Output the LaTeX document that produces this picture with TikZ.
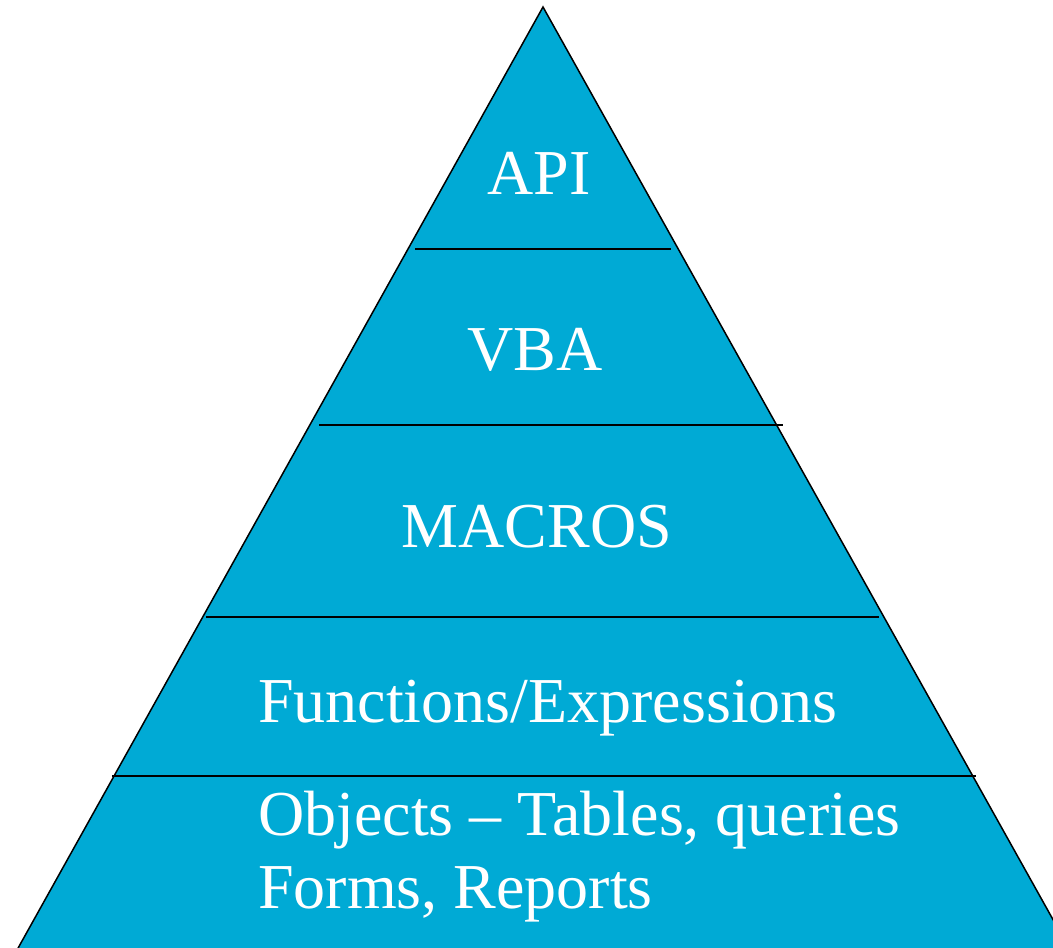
\documentclass[tikz,border=0pt]{standalone}
\usepackage{fontspec}
\setmainfont{Liberation Serif}
\usepackage{tikz}
\usetikzlibrary{positioning}
\definecolor{layerblue}{RGB}{0,170,213}
\tikzset{
	x=1pt, y=-1pt, % pixel-like units, y grows downwards
	pyramid/.style={fill=layerblue, draw=black, line width=1.5pt}, % the big triangle
	divider/.style={draw=black, line width=2pt}, % lines between the layers
	layertext/.style={text=white, inner sep=0pt, font=\fontsize{64}{73}\selectfont}, % labels in each layer
}
\begin{document}
\begin{tikzpicture}
	\useasboundingbox (0,0) rectangle (1053,948);
	\clip (0,0) rectangle (1053,948);
	\path[pyramid] (543,7) -- (17,950) -- (1070,950) -- cycle;
	\draw[divider] (415,249) -- (671,249);
	\draw[divider] (319,425) -- (783,425);
	\draw[divider] (206,617) -- (879,617);
	\draw[divider] (112,776) -- (976,776);
			\node[layertext, anchor=base] (api) at (539,194) {API};
			\node[layertext, anchor=base] (vba) at (535,370) {VBA};
			\node[layertext, anchor=base] (macros) at (537,547) {MACROS};
			\node[layertext, anchor=base west] (functions) at (258,722) {Functions/Expressions};
			\node[layertext, anchor=base west] (objects) at (258,835) {Objects -- Tables, queries};
			\node[layertext, anchor=base west] (forms) at ([yshift=-73pt]objects.base west) {Forms, Reports};
\end{tikzpicture}
\end{document}
